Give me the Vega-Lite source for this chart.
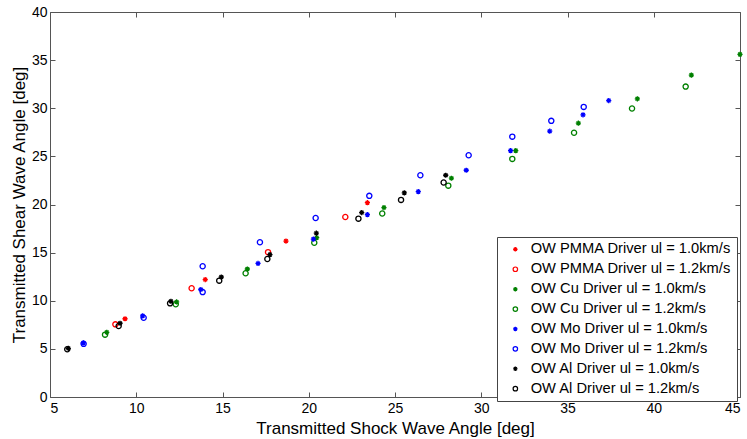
{
  "$schema": "https://vega.github.io/schema/vega-lite/v6.json",
  "width": 690,
  "height": 385,
  "autosize": {"type": "none"},
  "padding": {"left": 50, "top": 12, "right": 7, "bottom": 42},
  "background": "white",
  "config": {
    "view": {"stroke": null},
    "font": "Liberation Sans",
    "axis": {
      "domainColor": "#555555",
      "tickColor": "#555555",
      "tickSize": -5,
      "labelFont": "Liberation Sans",
      "labelFontSize": 14,
      "labelColor": "#000000",
      "titleFont": "Liberation Sans",
      "titleFontSize": 17,
      "titleFontWeight": "normal",
      "titleColor": "#000000",
      "grid": false
    },
    "legend": {
      "orient": "none",
      "legendX": 447,
      "legendY": 225,
      "strokeColor": "#444444",
      "fillColor": "white",
      "padding": 5,
      "labelFont": "Liberation Sans",
      "labelFontSize": 14.7,
      "labelColor": "#000000",
      "symbolSize": 20,
      "symbolStrokeWidth": 1.2,
      "rowPadding": 3.9,
      "labelOffset": 8,
      "symbolOffset": 6,
      "labelLimit": 400
    }
  },
  "data": {
    "values": [
      {"series": "OW PMMA Driver ul = 1.0km/s", "shock": 9.35, "shear": 8.13},
      {"series": "OW PMMA Driver ul = 1.0km/s", "shock": 14.0, "shear": 12.2},
      {"series": "OW PMMA Driver ul = 1.0km/s", "shock": 18.68, "shear": 16.2},
      {"series": "OW PMMA Driver ul = 1.0km/s", "shock": 23.4, "shear": 20.19},
      {"series": "OW PMMA Driver ul = 1.2km/s", "shock": 8.79, "shear": 7.55},
      {"series": "OW PMMA Driver ul = 1.2km/s", "shock": 13.21, "shear": 11.3},
      {"series": "OW PMMA Driver ul = 1.2km/s", "shock": 17.64, "shear": 15.05},
      {"series": "OW PMMA Driver ul = 1.2km/s", "shock": 22.12, "shear": 18.7},
      {"series": "OW Cu Driver ul = 1.0km/s", "shock": 8.29, "shear": 6.72},
      {"series": "OW Cu Driver ul = 1.0km/s", "shock": 12.34, "shear": 9.88},
      {"series": "OW Cu Driver ul = 1.0km/s", "shock": 16.44, "shear": 13.3},
      {"series": "OW Cu Driver ul = 1.0km/s", "shock": 20.46, "shear": 16.55},
      {"series": "OW Cu Driver ul = 1.0km/s", "shock": 24.36, "shear": 19.68},
      {"series": "OW Cu Driver ul = 1.0km/s", "shock": 28.27, "shear": 22.73},
      {"series": "OW Cu Driver ul = 1.0km/s", "shock": 32.0, "shear": 25.6},
      {"series": "OW Cu Driver ul = 1.0km/s", "shock": 35.63, "shear": 28.45},
      {"series": "OW Cu Driver ul = 1.0km/s", "shock": 39.05, "shear": 30.98},
      {"series": "OW Cu Driver ul = 1.0km/s", "shock": 42.18, "shear": 33.44},
      {"series": "OW Cu Driver ul = 1.0km/s", "shock": 45.0, "shear": 35.6},
      {"series": "OW Cu Driver ul = 1.2km/s", "shock": 8.19, "shear": 6.48},
      {"series": "OW Cu Driver ul = 1.2km/s", "shock": 12.29, "shear": 9.64},
      {"series": "OW Cu Driver ul = 1.2km/s", "shock": 16.34, "shear": 12.86},
      {"series": "OW Cu Driver ul = 1.2km/s", "shock": 20.32, "shear": 16.02},
      {"series": "OW Cu Driver ul = 1.2km/s", "shock": 24.26, "shear": 19.06},
      {"series": "OW Cu Driver ul = 1.2km/s", "shock": 28.09, "shear": 21.96},
      {"series": "OW Cu Driver ul = 1.2km/s", "shock": 31.8, "shear": 24.74},
      {"series": "OW Cu Driver ul = 1.2km/s", "shock": 35.38, "shear": 27.45},
      {"series": "OW Cu Driver ul = 1.2km/s", "shock": 38.74, "shear": 29.97},
      {"series": "OW Cu Driver ul = 1.2km/s", "shock": 41.85, "shear": 32.25},
      {"series": "OW Mo Driver ul = 1.0km/s", "shock": 6.93, "shear": 5.62},
      {"series": "OW Mo Driver ul = 1.0km/s", "shock": 10.37, "shear": 8.43},
      {"series": "OW Mo Driver ul = 1.0km/s", "shock": 13.74, "shear": 11.17},
      {"series": "OW Mo Driver ul = 1.0km/s", "shock": 17.06, "shear": 13.88},
      {"series": "OW Mo Driver ul = 1.0km/s", "shock": 20.27, "shear": 16.4},
      {"series": "OW Mo Driver ul = 1.0km/s", "shock": 23.4, "shear": 18.95},
      {"series": "OW Mo Driver ul = 1.0km/s", "shock": 26.35, "shear": 21.34},
      {"series": "OW Mo Driver ul = 1.0km/s", "shock": 29.13, "shear": 23.56},
      {"series": "OW Mo Driver ul = 1.0km/s", "shock": 31.7, "shear": 25.6},
      {"series": "OW Mo Driver ul = 1.0km/s", "shock": 33.97, "shear": 27.62},
      {"series": "OW Mo Driver ul = 1.0km/s", "shock": 35.9, "shear": 29.32},
      {"series": "OW Mo Driver ul = 1.0km/s", "shock": 37.39, "shear": 30.8},
      {"series": "OW Mo Driver ul = 1.2km/s", "shock": 6.95, "shear": 5.52},
      {"series": "OW Mo Driver ul = 1.2km/s", "shock": 10.43, "shear": 8.24},
      {"series": "OW Mo Driver ul = 1.2km/s", "shock": 13.85, "shear": 10.9},
      {"series": "OW Mo Driver ul = 1.2km/s", "shock": 13.85, "shear": 13.58},
      {"series": "OW Mo Driver ul = 1.2km/s", "shock": 17.17, "shear": 16.08},
      {"series": "OW Mo Driver ul = 1.2km/s", "shock": 20.4, "shear": 18.6},
      {"series": "OW Mo Driver ul = 1.2km/s", "shock": 23.51, "shear": 20.9},
      {"series": "OW Mo Driver ul = 1.2km/s", "shock": 26.47, "shear": 23.04},
      {"series": "OW Mo Driver ul = 1.2km/s", "shock": 29.27, "shear": 25.12},
      {"series": "OW Mo Driver ul = 1.2km/s", "shock": 31.8, "shear": 27.05},
      {"series": "OW Mo Driver ul = 1.2km/s", "shock": 34.06, "shear": 28.69},
      {"series": "OW Mo Driver ul = 1.2km/s", "shock": 35.94, "shear": 30.14},
      {"series": "OW Al Driver ul = 1.0km/s", "shock": 6.06, "shear": 5.06},
      {"series": "OW Al Driver ul = 1.0km/s", "shock": 9.06, "shear": 7.66},
      {"series": "OW Al Driver ul = 1.0km/s", "shock": 12.01, "shear": 9.94},
      {"series": "OW Al Driver ul = 1.0km/s", "shock": 14.93, "shear": 12.47},
      {"series": "OW Al Driver ul = 1.0km/s", "shock": 17.75, "shear": 14.79},
      {"series": "OW Al Driver ul = 1.0km/s", "shock": 20.44, "shear": 17.02},
      {"series": "OW Al Driver ul = 1.0km/s", "shock": 23.07, "shear": 19.16},
      {"series": "OW Al Driver ul = 1.0km/s", "shock": 25.54, "shear": 21.21},
      {"series": "OW Al Driver ul = 1.0km/s", "shock": 27.94, "shear": 23.04},
      {"series": "OW Al Driver ul = 1.2km/s", "shock": 6.0, "shear": 4.96},
      {"series": "OW Al Driver ul = 1.2km/s", "shock": 8.98, "shear": 7.38},
      {"series": "OW Al Driver ul = 1.2km/s", "shock": 11.96, "shear": 9.73},
      {"series": "OW Al Driver ul = 1.2km/s", "shock": 14.81, "shear": 12.09},
      {"series": "OW Al Driver ul = 1.2km/s", "shock": 17.6, "shear": 14.34},
      {"series": "OW Al Driver ul = 1.2km/s", "shock": 22.88, "shear": 18.53},
      {"series": "OW Al Driver ul = 1.2km/s", "shock": 25.35, "shear": 20.48},
      {"series": "OW Al Driver ul = 1.2km/s", "shock": 27.82, "shear": 22.28}
    ]
  },
  "layer": [
    {
      "mark": {"type": "point", "opacity": 0},
      "encoding": {
        "x": {"field": "shock", "type": "quantitative", "scale": {"domain": [5, 45], "nice": false, "zero": false},
              "axis": {"orient": "top", "labels": false, "title": null, "values": [5, 10, 15, 20, 25, 30, 35, 40, 45]}},
        "y": {"field": "shear", "type": "quantitative", "scale": {"domain": [0, 40], "nice": false, "zero": false},
              "axis": {"orient": "right", "labels": false, "title": null, "values": [0, 5, 10, 15, 20, 25, 30, 35, 40]}}
      }
    },
    {
      "mark": {"type": "point", "filled": false, "strokeWidth": 1.3, "opacity": 1, "size": 27},
      "encoding": {
        "x": {"field": "shock", "type": "quantitative",
              "axis": {"orient": "bottom", "title": "Transmitted Shock Wave Angle [deg]", "values": [5, 10, 15, 20, 25, 30, 35, 40, 45], "labelPadding": 9, "titlePadding": 5}},
        "y": {"field": "shear", "type": "quantitative",
              "axis": {"orient": "left", "title": "Transmitted Shear Wave Angle [deg]", "values": [0, 5, 10, 15, 20, 25, 30, 35, 40], "labelPadding": 8, "titlePadding": 3}},
        "color": {"field": "series", "type": "nominal", "title": null,
                  "scale": {"domain": ["OW PMMA Driver ul = 1.0km/s", "OW PMMA Driver ul = 1.2km/s", "OW Cu Driver ul = 1.0km/s", "OW Cu Driver ul = 1.2km/s", "OW Mo Driver ul = 1.0km/s", "OW Mo Driver ul = 1.2km/s", "OW Al Driver ul = 1.0km/s", "OW Al Driver ul = 1.2km/s"],
                            "range": ["#ff0000", "#ff0000", "#008000", "#008000", "#0000ff", "#0000ff", "#000000", "#000000"]}},
        "shape": {"field": "series", "type": "nominal", "title": null,
                  "scale": {"domain": ["OW PMMA Driver ul = 1.0km/s", "OW PMMA Driver ul = 1.2km/s", "OW Cu Driver ul = 1.0km/s", "OW Cu Driver ul = 1.2km/s", "OW Mo Driver ul = 1.0km/s", "OW Mo Driver ul = 1.2km/s", "OW Al Driver ul = 1.0km/s", "OW Al Driver ul = 1.2km/s"],
                            "range": ["M-1,0L1,0M0,-1L0,1M-0.7,-0.7L0.7,0.7M-0.7,0.7L0.7,-0.7", "circle", "M-1,0L1,0M0,-1L0,1M-0.7,-0.7L0.7,0.7M-0.7,0.7L0.7,-0.7", "circle", "M-1,0L1,0M0,-1L0,1M-0.7,-0.7L0.7,0.7M-0.7,0.7L0.7,-0.7", "circle", "M-1,0L1,0M0,-1L0,1M-0.7,-0.7L0.7,0.7M-0.7,0.7L0.7,-0.7", "circle"]}}
      }
    }
  ],
  "resolve": {"axis": {"x": "independent", "y": "independent"}}
}
